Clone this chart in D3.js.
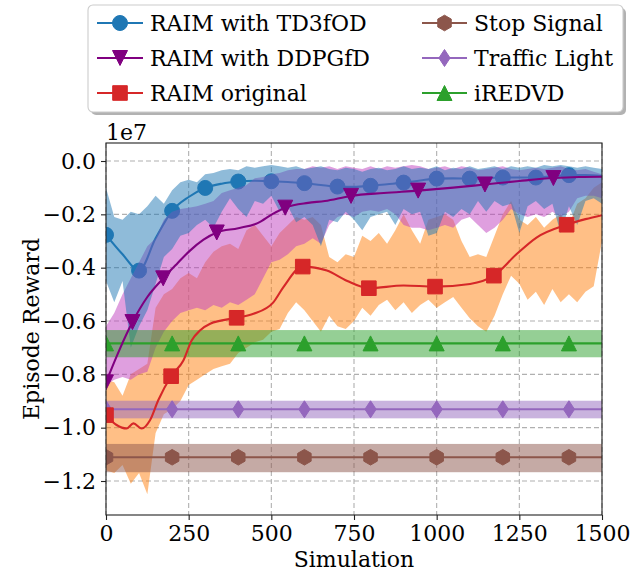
<!DOCTYPE html>
<html>
<head>
<meta charset="utf-8">
<script src="https://cdn.jsdelivr.net/npm/d3@7"></script>
<style>
  body { margin: 0; background: #fff; }
  svg { display: block; }
  text { font-family: "DejaVu Serif", serif; fill: #000; }
</style>
</head>
<body>
<div id="chart"></div>
<script>
// values in units of 1e7
const simSteps = [0, 25, 50, 75, 100, 125, 150, 175, 200, 225, 250, 275, 300, 325, 350, 375, 400, 425, 450, 475,
  500, 525, 550, 575, 600, 625, 650, 675, 700, 725, 750, 775, 800, 825, 850, 875, 900, 925, 950, 975,
  1000, 1025, 1050, 1075, 1100, 1125, 1150, 1175, 1200, 1225, 1250, 1275, 1300, 1325, 1350, 1375, 1400, 1425, 1450, 1475, 1500];

const td3Hi = [-0.10, -0.21, -0.22, -0.19, -0.20, -0.17, -0.13, -0.16, -0.11, -0.08, -0.07, -0.08, -0.05, -0.045, -0.035, -0.03, -0.035, -0.02, -0.025, -0.02,
  -0.015, -0.02, -0.025, -0.02, -0.03, -0.025, -0.02, -0.03, -0.035, -0.025, -0.03, -0.04, -0.03, -0.025, -0.035, -0.03, -0.02, -0.03, -0.025, -0.03,
  -0.02, -0.035, -0.025, -0.03, -0.02, -0.03, -0.025, -0.02, -0.03, -0.02, -0.025, -0.02, -0.025, -0.015, -0.02, -0.015, -0.02, -0.025, -0.02, -0.025, -0.03];
const td3Lo = [-0.45, -0.53, -0.45, -0.70, -0.62, -0.56, -0.46, -0.36, -0.33, -0.28, -0.27, -0.24, -0.22, -0.25, -0.19, -0.14, -0.18, -0.21, -0.15, -0.16,
  -0.13, -0.19, -0.17, -0.23, -0.21, -0.24, -0.32, -0.22, -0.23, -0.19, -0.22, -0.26, -0.21, -0.20, -0.19, -0.24, -0.18, -0.20, -0.19, -0.28,
  -0.27, -0.19, -0.21, -0.18, -0.20, -0.15, -0.19, -0.15, -0.17, -0.16, -0.27, -0.17, -0.15, -0.18, -0.16, -0.27, -0.17, -0.24, -0.15, -0.14, -0.16];

const ddHi = [-0.62, -0.57, -0.50, -0.44, -0.38, -0.32, -0.29, -0.22, -0.19, -0.18, -0.175, -0.17, -0.16, -0.15, -0.12, -0.11, -0.10, -0.09, -0.065, -0.06,
  -0.05, -0.045, -0.035, -0.03, -0.03, -0.02, -0.025, -0.02, -0.03, -0.02, -0.025, -0.03, -0.02, -0.03, -0.02, -0.025, -0.02, -0.015, -0.02, -0.03,
  -0.025, -0.02, -0.03, -0.02, -0.025, -0.035, -0.03, -0.025, -0.02, -0.03, -0.035, -0.03, -0.025, -0.03, -0.025, -0.02, -0.03, -0.035, -0.03, -0.04, -0.05];
const ddLo = [-0.84, -0.82, -0.81, -0.82, -0.80, -0.79, -0.70, -0.64, -0.60, -0.57, -0.56, -0.55, -0.56, -0.54, -0.55, -0.53, -0.54, -0.52, -0.50, -0.44,
  -0.38, -0.37, -0.35, -0.32, -0.31, -0.29, -0.31, -0.24, -0.21, -0.20, -0.21, -0.19, -0.185, -0.19, -0.18, -0.20, -0.24, -0.25, -0.25, -0.26,
  -0.25, -0.24, -0.25, -0.22, -0.21, -0.24, -0.27, -0.25, -0.22, -0.18, -0.20, -0.21, -0.20, -0.21, -0.19, -0.21, -0.19, -0.14, -0.13, -0.13, -0.14];

const origHi = [-0.82, -0.83, -0.88, -0.80, -0.78, -0.76, -0.55, -0.50, -0.48, -0.44, -0.42, -0.44, -0.38, -0.34, -0.32, -0.31, -0.33, -0.26, -0.24, -0.28,
  -0.32, -0.27, -0.24, -0.21, -0.22, -0.21, -0.24, -0.36, -0.38, -0.35, -0.36, -0.28, -0.30, -0.27, -0.31, -0.26, -0.20, -0.26, -0.31, -0.22,
  -0.21, -0.20, -0.22, -0.30, -0.36, -0.35, -0.36, -0.28, -0.20, -0.15, -0.22, -0.24, -0.21, -0.25, -0.22, -0.20, -0.24, -0.16, -0.14, -0.10, -0.08];
const origLo = [-1.16, -1.17, -1.14, -1.21, -1.17, -1.25, -1.02, -0.95, -0.93, -0.90, -0.84, -0.82, -0.80, -0.78, -0.77, -0.76, -0.72, -0.70, -0.68, -0.67,
  -0.64, -0.63, -0.57, -0.53, -0.56, -0.60, -0.64, -0.58, -0.62, -0.63, -0.60, -0.55, -0.58, -0.54, -0.52, -0.56, -0.53, -0.57, -0.54, -0.52,
  -0.55, -0.53, -0.51, -0.55, -0.59, -0.62, -0.64, -0.58, -0.50, -0.43, -0.46, -0.52, -0.49, -0.54, -0.48, -0.53, -0.50, -0.53, -0.49, -0.47, -0.30];

// smoothed mean curves [simulation, reward]
const td3Mean = [[0, -0.277], [50, -0.35], [100, -0.411], [150, -0.29], [200, -0.187], [250, -0.135], [300, -0.101], [350, -0.085],
  [400, -0.077], [450, -0.074], [500, -0.076], [550, -0.079], [600, -0.083], [650, -0.09], [700, -0.096], [750, -0.097],
  [800, -0.093], [850, -0.087], [900, -0.081], [950, -0.073], [1000, -0.066], [1050, -0.065], [1100, -0.066], [1150, -0.064],
  [1200, -0.062], [1250, -0.062], [1300, -0.062], [1350, -0.057], [1400, -0.053], [1450, -0.053], [1500, -0.056]];
const ddMean = [[0, -0.83], [40, -0.71], [80, -0.604], [125, -0.51], [173, -0.44], [215, -0.385], [254, -0.336], [295, -0.295],
  [335, -0.268], [400, -0.252], [460, -0.232], [502, -0.20], [544, -0.174], [611, -0.157], [662, -0.15], [740, -0.131],
  [840, -0.12], [944, -0.111], [1050, -0.10], [1146, -0.088], [1250, -0.075], [1353, -0.064], [1430, -0.06], [1500, -0.059]];
const origMean = [[0, -0.953], [32, -0.99], [62, -1.003], [83, -0.984], [108, -1.003], [133, -0.972], [158, -0.897], [197, -0.807],
  [234, -0.748], [259, -0.673], [284, -0.636], [315, -0.61], [395, -0.588], [446, -0.573], [506, -0.53], [536, -0.474],
  [595, -0.396], [668, -0.411], [728, -0.449], [795, -0.477], [900, -0.467], [995, -0.471], [1101, -0.461], [1173, -0.43],
  [1242, -0.349], [1302, -0.287], [1393, -0.239], [1450, -0.218], [1500, -0.203]];

const td3MarkX = [0, 100, 200, 300, 400, 500, 600, 700, 800, 900, 1000, 1100, 1200, 1300, 1400];
const ddMarkX = [0, 80, 173, 335, 542, 741, 944, 1146, 1353];
const origMarkX = [0, 197, 395, 595, 795, 995, 1173, 1393];

// baselines: Stop Signal, Traffic Light, iREDVD
const baseMean = [-1.111, -0.931, -0.684];
const baseLo = [-1.167, -0.965, -0.736];
const baseHi = [-1.061, -0.899, -0.634];
const baseMarkX = [0, 200, 400, 600, 800, 1000, 1200, 1400];

const xTicks = [0, 250, 500, 750, 1000, 1250, 1500];
const yTicks = [0, -0.2, -0.4, -0.6, -0.8, -1.0, -1.2];

const legendLabels = ["RAIM with TD3fOD", "RAIM with DDPGfD", "RAIM original", "Stop Signal", "Traffic Light", "iREDVD"];

const W = 644, H = 573;
const svg = d3.select("#chart").append("svg").attr("width", W).attr("height", H);

const x = d3.scaleLinear().domain([0, 1500]).range([106, 602]);
const y = d3.scaleLinear().domain([-1.3275, 0.0675]).range([515, 143]);

svg.append("defs").append("clipPath").attr("id", "clip")
  .append("rect").attr("x", 106).attr("y", 143).attr("width", 496).attr("height", 372);

// grid
const grid = svg.append("g").attr("stroke", "#b0b0b0").attr("stroke-width", 1.1).attr("stroke-dasharray", "5,3");
grid.selectAll(".gx").data(xTicks).enter().append("line")
  .attr("x1", d => x(d)).attr("x2", d => x(d)).attr("y1", 143).attr("y2", 515);
grid.selectAll(".gy").data(yTicks).enter().append("line")
  .attr("x1", 106).attr("x2", 602).attr("y1", d => y(d)).attr("y2", d => y(d));

const plot = svg.append("g").attr("clip-path", "url(#clip)");

// marker shapes
const shapes = {
  circle: "M7.5,0A7.5,7.5 0 1,1 -7.5,0A7.5,7.5 0 1,1 7.5,0Z",
  tdown: "M-7.5,-7.5L7.5,-7.5L0,7.5Z",
  tup: "M0,-7.5L7.5,7.5L-7.5,7.5Z",
  square: "M-7.3,-7.3H7.3V7.3H-7.3Z",
  hex: "M0,-7.8L6.75,-3.9L6.75,3.9L0,7.8L-6.75,3.9L-6.75,-3.9Z",
  diamond: "M0,-8.5L5.6,0L0,8.5L-5.6,0Z"
};

const lineGen = d3.line().x(d => x(d[0])).y(d => y(d[1])).curve(d3.curveMonotoneX);

function yOnPath(node, px) {
  const L = node.getTotalLength();
  let lo = 0, hi = L;
  for (let i = 0; i < 40; i++) {
    const mid = (lo + hi) / 2;
    if (node.getPointAtLength(mid).x < px) lo = mid; else hi = mid;
  }
  return node.getPointAtLength((lo + hi) / 2).y;
}

function drawMean(data, markX, color, shape) {
  const g = plot.append("g");
  const p = g.append("path").datum(data).attr("d", lineGen)
    .attr("fill", "none").attr("stroke", color).attr("stroke-width", 2.1);
  const node = p.node();
  g.selectAll("path.m").data(markX).enter().append("path").attr("class", "m")
    .attr("d", shapes[shape])
    .attr("transform", d => `translate(${x(d)},${yOnPath(node, x(d))})`)
    .attr("fill", color).attr("stroke", color).attr("stroke-width", 1);
}

function drawBand(hi, lo, color, op) {
  const area = d3.area()
    .x((d, i) => x(simSteps[i]))
    .y0((d, i) => y(lo[i]))
    .y1((d, i) => y(hi[i]));
  plot.append("path").datum(hi).attr("d", area).attr("fill", color).attr("fill-opacity", op);
}

// draw order
drawMean(td3Mean, td3MarkX, "#1f77b4", "circle");
drawBand(origHi, origLo, "#ff7f0e", 0.5);
drawBand(ddHi, ddLo, "#c040c0", 0.5);
drawBand(td3Hi, td3Lo, "#1f77b4", 0.5);

const baseColors = ["#8c564b", "#9467bd", "#2ca02c"];
const baseShapes = ["hex", "diamond", "tup"];
baseMean.forEach((m, k) => {
  plot.append("rect")
    .attr("x", x(0)).attr("width", x(1500) - x(0))
    .attr("y", y(baseHi[k])).attr("height", y(baseLo[k]) - y(baseHi[k]))
    .attr("fill", baseColors[k]).attr("fill-opacity", 0.5);
});
baseMean.forEach((m, k) => {
  drawMean([[0, m], [1500, m]], baseMarkX, baseColors[k], baseShapes[k]);
});

drawMean(ddMean, ddMarkX, "#800080", "tdown");
drawMean(origMean, origMarkX, "#d62728", "square");

// axes
const fs = "22px";
const xAxis = svg.append("g").attr("transform", "translate(0,515)")
  .call(d3.axisBottom(x).tickValues(xTicks).tickSize(5).tickSizeOuter(0).tickPadding(5).tickFormat(d3.format("d")));
const yAxis = svg.append("g").attr("transform", "translate(106,0)")
  .call(d3.axisLeft(y).tickValues(yTicks).tickSize(5).tickSizeOuter(0).tickPadding(5).tickFormat(d3.format(".1f")));
[xAxis, yAxis].forEach(a => {
  a.select(".domain").remove();
  a.selectAll(".tick line").attr("stroke", "#222").attr("stroke-width", 1.1);
  a.selectAll(".tick text").style("font-family", '"DejaVu Serif", serif').style("font-size", fs).attr("fill", "#000");
});

svg.append("rect").attr("x", 106).attr("y", 143).attr("width", 496).attr("height", 372)
  .attr("fill", "none").attr("stroke", "#222").attr("stroke-width", 1.1);

svg.append("text").attr("x", 106).attr("y", 140).style("font-size", fs).text("1e7");
svg.append("text").attr("x", 354).attr("y", 567).attr("text-anchor", "middle").style("font-size", fs).text("Simulation");
svg.append("text").attr("transform", "translate(31,329) rotate(-90)").attr("text-anchor", "middle")
  .attr("dominant-baseline", "central").style("font-size", fs).text("Episode Reward");

// legend
const leg = svg.append("g");
leg.append("rect").attr("x", 91).attr("y", 8).attr("width", 535).attr("height", 107).attr("rx", 5)
  .attr("fill", "#000").attr("fill-opacity", 0.3);
leg.append("rect").attr("x", 88).attr("y", 5).attr("width", 535).attr("height", 107).attr("rx", 5)
  .attr("fill", "#fff").attr("stroke", "#cccccc").attr("stroke-width", 1.1);
const legColors = ["#1f77b4", "#800080", "#d62728", "#8c564b", "#9467bd", "#2ca02c"];
const legShapes = ["circle", "tdown", "square", "hex", "diamond", "tup"];
const rowY = [23, 58, 93];
const colX = [[97, 143, 150], [422, 467, 474]];
legendLabels.forEach((lab, i) => {
  const c = Math.floor(i / 3), r = i % 3;
  const [x0, x1, tx] = colX[c];
  const ry = rowY[r];
  leg.append("line").attr("x1", x0).attr("x2", x1).attr("y1", ry).attr("y2", ry)
    .attr("stroke", legColors[i]).attr("stroke-width", 2.1);
  leg.append("path").attr("d", shapes[legShapes[i]]).attr("transform", `translate(${(x0 + x1) / 2},${ry})`)
    .attr("fill", legColors[i]).attr("stroke", legColors[i]).attr("stroke-width", 1);
  leg.append("text").attr("x", tx).attr("y", ry).attr("dominant-baseline", "central")
    .style("font-size", fs).text(lab);
});
</script>
</body>
</html>
